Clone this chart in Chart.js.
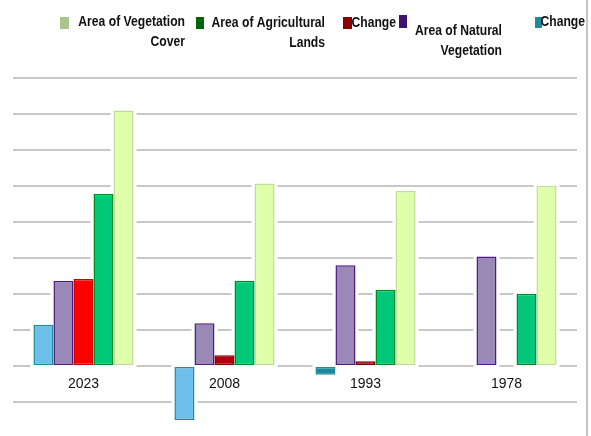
<!DOCTYPE html>
<html>
<head>
<meta charset="utf-8">
<title>Vegetation and agricultural area</title>
<script src="https://cdn.jsdelivr.net/npm/chart.js@4.4.1/dist/chart.umd.min.js"></script>
<style>
  html, body { margin: 0; padding: 0; background: #fff; }
  #wrap { position: relative; width: 591px; height: 436px; }
</style>
</head>
<body>
<div id="wrap"><canvas id="myChart"></canvas></div>
<script>
'use strict';
//Data
const years = ['2023', '2008', '1993', '1978'];
const seriesNames = ['Change', 'Area of Natural Vegetation', 'Change', 'Area of Agricultural Lands', 'Area of Vegetation Cover'];
const legendLines = [['Change'], ['Area of Natural', 'Vegetation'], ['Change'], ['Area of Agricultural', 'Lands'], ['Area of Vegetation', 'Cover']];
const changeTeal = [1.14, -1.5, -0.24, 0];
const naturalVeg = [2.36, 1.19, 2.80, 3.04];
const changeRed = [2.42, 0.30, 0.13, 0];
const agriLands = [4.78, 2.37, 2.12, 2.01];
const vegCover = [7.10, 5.07, 4.86, 5.01];
const yMin = -1;
const yMax = 8;
const yStep = 1;

//Styles
const FONT = "'Liberation Sans', Arial, sans-serif";
const GRID = '#c8c8c8';
const NARROW = 0.81; // squeeze text like Arial Narrow

// legend is drawn left->right, which is the dataset order reversed
const legendLayout = [
  {box: [60, 17, 9, 12], color: '#a9c48f', right: 185, base: 26},
  {box: [196, 17, 8, 12], color: '#00640a', right: 325, base: 27},
  {box: [343, 17, 9, 12], color: '#8b0000', right: 396, base: 27},
  {box: [399, 15, 8, 13], color: '#3c1470', right: 502, base: 35},
  {box: [535, 17, 7, 11], color: '#1f8a99', right: 585, base: 26}
];

//Plugins
const barHalo = {
  id: 'barHalo',
  beforeDatasetsDraw(chart){
    const ctx = chart.ctx;
    ctx.save();
    ctx.fillStyle = '#fff';
    chart.data.datasets.forEach((ds, i) => {
      chart.getDatasetMeta(i).data.forEach((bar, j) => {
        if (ds.data[j] === 0) return;
        const top = Math.min(bar.y, bar.base);
        const bottom = Math.max(bar.y, bar.base);
        ctx.fillRect(bar.x - bar.width / 2 - 3, top - 2, bar.width + 6, bottom - top + 4);
      });
    });
    ctx.restore();
  }
};

const sideLegend = {
  id: 'sideLegend',
  afterDraw(chart){
    const ctx = chart.ctx;
    const n = chart.data.datasets.length;
    ctx.save();
    ctx.font = 'bold 15px ' + FONT;
    ctx.textAlign = 'right';
    ctx.textBaseline = 'alphabetic';
    for (let i = 0; i < n; i++){
      const k = n - 1 - i;
      const item = legendLayout[i];
      ctx.fillStyle = item.color;
      ctx.fillRect(item.box[0], item.box[1], item.box[2], item.box[3]);
      ctx.fillStyle = '#111';
      legendLines[k].forEach((line, l) => {
        const w = ctx.measureText(line).width * NARROW;
        ctx.fillText(line, item.right, item.base + l * 19.5, w);
      });
    }
    // frame line on the right
    ctx.fillStyle = '#c4c4c4';
    ctx.fillRect(586, 0, 2, chart.height);
    ctx.restore();
  }
};

//Chart
const chart_myChart = document.getElementById('myChart').getContext('2d');
const chart = new Chart(chart_myChart, {
  type: 'bar',
  data: {
    labels: years,
    datasets: [{
      label: seriesNames[0],
      data: changeTeal,
      backgroundColor: ['#6ec0ea', '#6ec0ea', '#1a8a9a', '#6ec0ea'],
      borderColor: '#1f8c9b'
    },
    {
      label: seriesNames[1],
      data: naturalVeg,
      backgroundColor: '#9a88b6',
      borderColor: '#4b1a82'
    },
    {
      label: seriesNames[2],
      data: changeRed,
      backgroundColor: ['#ff0000', '#b00010', '#8b0000', '#8b0000'],
      borderColor: ['#d00000', '#900000', '#700000', '#700000']
    },
    {
      label: seriesNames[3],
      data: agriLands,
      backgroundColor: '#00c878',
      borderColor: '#008a20'
    },
    {
      label: seriesNames[4],
      data: vegCover,
      backgroundColor: '#e0ffaa',
      borderColor: '#c0dc98'
    }]
  },
  options: {
    responsive: true,
    maintainAspectRatio: false,
    animation: false,
    layout: {padding: {left: 13, right: 14, top: 78, bottom: 34}},
    datasets: {
      bar: {barPercentage: 1, categoryPercentage: 0.71, borderWidth: 1.5, borderSkipped: false, clip: false}
    },
    plugins: {
      legend: {display: false},
      tooltip: {enabled: false}
    },
    scales: {
      x: {
        position: {y: 0},
        grid: {display: false, drawTicks: false},
        border: {display: false},
        ticks: {color: '#111', padding: 10, font: {family: FONT, size: 14}}
      },
      y: {
        min: yMin,
        max: yMax,
        ticks: {display: false, stepSize: yStep},
        grid: {color: GRID, lineWidth: 2, drawTicks: false},
        border: {display: false}
      }
    }
  },
  plugins: [barHalo, sideLegend]
});
</script>
</body>
</html>
